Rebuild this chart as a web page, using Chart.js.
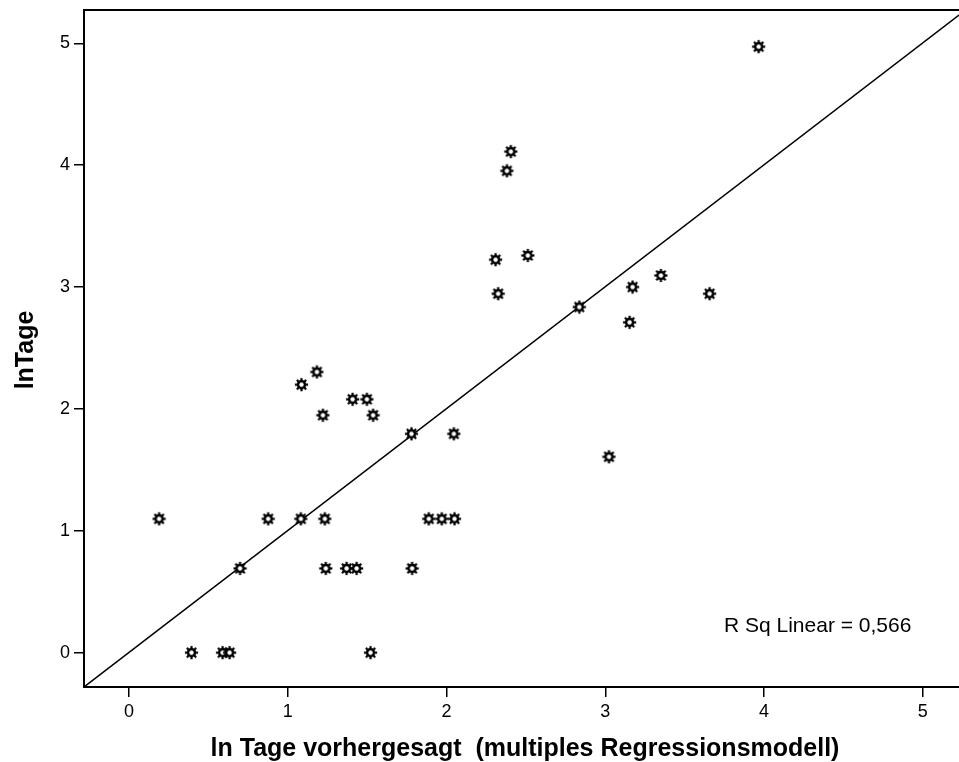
<!DOCTYPE html>
<html>
<head>
<meta charset="utf-8">
<script src="https://cdn.jsdelivr.net/npm/chart.js@4/dist/chart.umd.min.js"></script>
<style>
html,body{margin:0;padding:0;background:#fff;}
#wrap{width:959px;height:762px;position:relative;}
</style>
</head>
<body>
<div id="wrap"><canvas id="c" width="959" height="762"></canvas></div>
<script>
// Data
const predicted = [0.189,0.876,1.082,1.233,1.888,1.970,2.050,0.699,1.239,1.370,1.433,1.783,0.393,0.589,0.633,1.521,1.086,1.183,1.221,1.408,1.498,1.537,1.779,2.046,2.405,2.380,2.309,2.512,2.325,2.836,3.172,3.350,3.153,3.657,3.023,3.966];
const lnTage    = [1.098,1.098,1.098,1.098,1.098,1.098,1.098,0.691,0.691,0.691,0.691,0.691,0,0,0,0,2.199,2.303,1.948,2.079,2.079,1.948,1.795,1.795,4.111,3.953,3.224,3.259,2.945,2.836,3.000,3.095,2.710,2.945,1.607,4.972];
const fitX = [-0.284, 5.228];
const fitY = [-0.282, 5.232];
const xTicks = [0,1,2,3,4,5];
const yTicks = [0,1,2,3,4,5];
const xRange = [-0.284, 5.228];
const yRange = [-0.282, 5.273];
const xTitle = 'ln Tage vorhergesagt  (multiples Regressionsmodell)';
const yTitle = 'lnTage';
const rsqText = 'R Sq Linear = 0,566';

// gear-like marker
function makeMarker(){
  const s = 15, c = document.createElement('canvas');
  c.width = s; c.height = s;
  const g = c.getContext('2d');
  const m = s/2;
  g.strokeStyle = '#000'; g.lineWidth = 2.2; g.lineCap='butt';
  for(let i=0;i<8;i++){
    const a = i*Math.PI/4;
    g.beginPath();
    g.moveTo(m+Math.cos(a)*2, m+Math.sin(a)*2);
    g.lineTo(m+Math.cos(a)*6.6, m+Math.sin(a)*6.6);
    g.stroke();
  }
  g.fillStyle='#000';
  g.beginPath(); g.arc(m,m,4.7,0,Math.PI*2); g.fill();
  g.fillStyle='#fff';
  g.beginPath(); g.arc(m,m,2.2,0,Math.PI*2); g.fill();
  return c;
}
const marker = makeMarker();

const FONT = '"Liberation Sans", Arial, sans-serif';

function zeroPad(s){ s.paddingTop = 0; s.paddingBottom = 0; s.paddingLeft = 0; s.paddingRight = 0; }

const textPlugin = {
  id:'texts',
  afterDraw(chart){
    const ctx = chart.ctx, a = chart.chartArea;
    ctx.save();
    // top frame line
    ctx.strokeStyle='#000'; ctx.lineWidth=2;
    ctx.beginPath(); ctx.moveTo(a.left-1, a.top); ctx.lineTo(a.right, a.top); ctx.stroke();
    ctx.fillStyle='#000';
    // x title
    ctx.font = 'bold 25px ' + FONT;
    ctx.textAlign='center'; ctx.textBaseline='alphabetic';
    ctx.fillText(xTitle, 525, 756);
    // y title
    ctx.save();
    ctx.translate(33, 350);
    ctx.rotate(-Math.PI/2);
    ctx.textAlign='center'; ctx.textBaseline='alphabetic';
    ctx.fillText(yTitle, 0, 0);
    ctx.restore();
    // R sq
    ctx.font = '21px ' + FONT;
    ctx.textAlign='left'; ctx.textBaseline='alphabetic';
    ctx.fillText(rsqText, 724, 632);
    ctx.restore();
  }
};

new Chart(document.getElementById('c'), {
  type:'scatter',
  data:{
    datasets:[
      {
        label:'Observed',
        data: predicted.map((x,i)=>({x:x, y:lnTage[i]})),
        pointStyle: marker,
        pointRadius: 7,
        pointHoverRadius: 7,
        showLine:false,
        order:1
      },
      {
        label:'Fit',
        type:'line',
        data: fitX.map((x,i)=>({x:x, y:fitY[i]})),
        borderColor:'#000',
        borderWidth:1.5,
        pointRadius:0,
        fill:false,
        tension:0,
        order:2
      }
    ]
  },
  options:{
    responsive:false,
    animation:false,
    devicePixelRatio:1,
    layout:{autoPadding:false, padding:{top:10,left:0,right:0,bottom:0}},
    plugins:{legend:{display:false}, tooltip:{enabled:false}},
    scales:{
      x:{
        type:'linear',
        min:xRange[0], max:xRange[1],
        afterFit(s){ s.height = 75; zeroPad(s); },
        afterBuildTicks(s){ s.ticks = xTicks.map(v=>({value:v})); },
        ticks:{includeBounds:false, color:'#000', padding:4, font:{family:FONT,size:18}, callback:v=>String(v), maxRotation:0, autoSkip:false},
        grid:{display:true, drawOnChartArea:false, drawTicks:true, tickLength:10, color:'#000', lineWidth:1.5},
        border:{display:true, color:'#000', width:2}
      },
      y:{
        type:'linear',
        min:yRange[0], max:yRange[1],
        afterFit(s){ s.width = 84; zeroPad(s); },
        afterBuildTicks(s){ s.ticks = yTicks.map(v=>({value:v})); },
        ticks:{includeBounds:false, color:'#000', padding:4, font:{family:FONT,size:18}, callback:v=>String(v), autoSkip:false},
        grid:{display:true, drawOnChartArea:false, drawTicks:true, tickLength:10, color:'#000', lineWidth:1.5},
        border:{display:true, color:'#000', width:2}
      }
    }
  },
  plugins:[textPlugin]
});
</script>
</body>
</html>
